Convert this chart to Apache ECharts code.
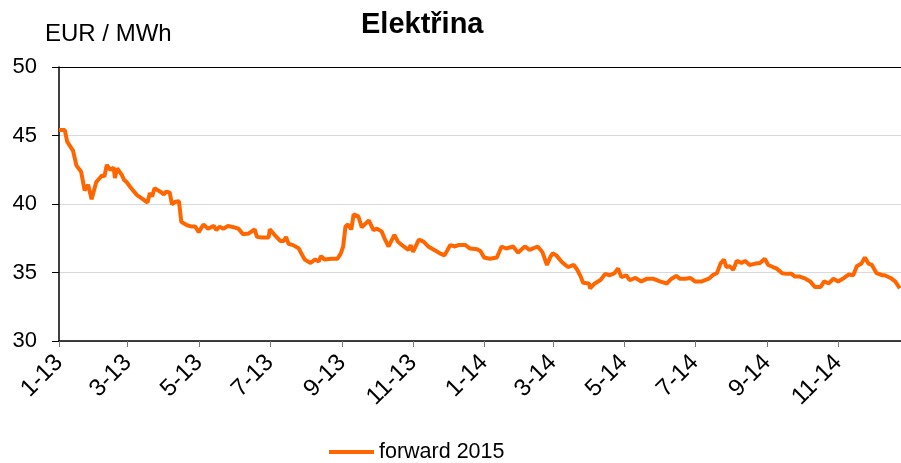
<!DOCTYPE html>
<html>
<head>
<meta charset="utf-8">
<title>Elektřina</title>
<script src="https://cdn.jsdelivr.net/npm/echarts@6/dist/echarts.min.js"></script>
<style>
  html, body { margin: 0; padding: 0; background: #fff; }
  #chart { width: 901px; height: 463px; }
</style>
</head>
<body>
<div id="chart"></div>
<script>
// days counted from 1 Jan 2013
const days = [
  0, 5, 7, 12, 15, 19, 22, 25, 28, 32, 35, 37, 39, 41, 44, 47, 48, 50, 54, 56, 58,
  62, 67, 72, 76, 78, 80, 82, 87, 90, 92, 95, 97, 100, 103, 105, 107, 110, 114, 117,
  120, 124, 128, 133, 135, 138, 141, 145, 150, 154, 158, 163, 168, 170, 174, 180,
  181, 185, 190, 193, 195, 197, 201, 206, 208, 211, 216, 220, 223, 225, 228, 234,
  239, 242, 244, 246, 248, 251, 253, 257, 260, 263, 266, 270, 273, 277, 280, 283,
  288, 291, 296, 300, 302, 304, 309, 313, 317, 323, 327, 331, 336, 340, 343, 349,
  353, 359, 362, 365, 370, 376, 378, 380, 384, 390, 394, 400, 404, 411, 415, 419,
  422, 424, 427, 432, 437, 442, 445, 448, 450, 455, 456, 460, 465, 469, 473, 477,
  480, 483, 487, 490, 495, 500, 505, 510, 516, 522, 526, 530, 533, 538, 542, 546,
  552, 558, 562, 565, 568, 571, 573, 576, 579, 582, 586, 589, 593, 598, 602, 606,
  609, 613, 616, 621, 625, 629, 632, 636, 641, 645, 649, 654, 657, 661, 665, 669,
  674, 678, 682, 685, 689, 692, 695, 698, 702, 707, 709, 714, 718, 722
]

const forward2015 = [
  45.4, 45.4, 44.55, 43.9, 42.8, 42.35, 41.0, 41.4, 40.35, 41.6, 41.9, 42.1, 42.0, 42.85, 42.5, 42.65, 41.9, 42.6, 42.1, 41.75, 41.6,
  41.15, 40.65, 40.35, 40.1, 40.8, 40.55, 41.15, 40.9, 40.7, 40.9, 40.85, 39.98, 40.17, 40.2, 38.7, 38.6, 38.45, 38.35, 38.35,
  37.95, 38.5, 38.2, 38.4, 38.1, 38.35, 38.2, 38.4, 38.3, 38.2, 37.8, 37.85, 38.15, 37.6, 37.55, 37.55,
  38.15, 37.75, 37.3, 37.3, 37.6, 37.1, 37.0, 36.75, 36.4, 35.95, 35.7, 35.95, 35.8, 36.2, 35.95, 36.0,
  36.0, 36.4, 36.9, 38.35, 38.5, 38.15, 39.25, 39.1, 38.3, 38.55, 38.8, 38.1, 38.2, 38.0, 37.4, 36.9,
  37.75, 37.25, 36.9, 36.65, 37.0, 36.5, 37.4, 37.25, 36.9, 36.6, 36.4, 36.25, 37.0, 36.9, 37.0, 37.0,
  36.75, 36.7, 36.55, 36.1, 36.0, 36.1, 36.5, 36.9, 36.75, 36.9, 36.45, 36.9, 36.65, 36.9, 36.5, 35.55,
  36.15, 36.4, 36.25, 35.75, 35.4, 35.55, 35.2, 34.7, 34.25, 34.2, 33.85, 34.2, 34.45, 34.9, 34.8, 34.95,
  35.3, 34.65, 34.8, 34.45, 34.6, 34.35, 34.55, 34.55, 34.35, 34.2, 34.55, 34.75, 34.55, 34.55, 34.6, 34.35,
  34.35, 34.55, 34.85, 34.95, 35.65, 35.95, 35.4, 35.45, 35.2, 35.85, 35.7, 35.85, 35.55, 35.65, 35.7, 36.0,
  35.55, 35.4, 35.3, 34.95, 34.9, 34.9, 34.7, 34.7, 34.55, 34.35, 33.95, 33.95, 34.35, 34.2, 34.55, 34.35,
  34.6, 34.85, 34.8, 35.45, 35.65, 36.1, 35.65, 35.55, 34.95, 34.8, 34.8, 34.6, 34.35, 33.85
]

// first day of every second month
const tickDays = [0, 59, 120, 181, 243, 304, 365, 424, 485, 546, 608, 669]
const tickLabels = ['1-13', '3-13', '5-13', '7-13', '9-13', '11-13', '1-14', '3-14', '5-14', '7-14', '9-14', '11-14']

const yTicks = [30, 35, 40, 45, 50]

const chart = echarts.init(document.getElementById('chart'))
const font = '"Liberation Sans", Arial, sans-serif'

const option = {
  animation: false,
  title: {
    text: 'Elektřina',
    left: 361,
    top: 10,
    padding: 0,
    textStyle: { fontFamily: font, fontSize: 29, fontWeight: 'bold', color: '#000' },
  },
  legend: {
    data: ['forward 2015'],
    left: 329,
    top: 441,
    padding: 0,
    icon: 'rect',
    itemWidth: 45,
    itemHeight: 4,
    textStyle: { fontFamily: font, fontSize: 21.5, color: '#000' },
  },
  grid: { left: 59, right: 0, top: 67, bottom: 122, containLabel: false },
  xAxis: {
    type: 'value',
    min: 0,
    max: 723,
    axisLine: { show: true, lineStyle: { color: '#000', width: 1.5 } },
    axisTick: {
      show: true,
      customValues: tickDays,
      length: 6,
      lineStyle: { color: '#777' },
    },
    axisLabel: {
      customValues: tickDays,
      rotate: 45,
      margin: 18,
      fontFamily: font,
      fontSize: 24,
      color: '#000',
      formatter: (v) => tickLabels[tickDays.indexOf(v)] || '',
    },
    splitLine: { show: false },
  },
  yAxis: {
    type: 'value',
    min: 30,
    max: 50,
    interval: 5,
    name: 'EUR / MWh',
    nameLocation: 'end',
    nameGap: 0,
    nameTextStyle: {
      fontFamily: font,
      fontSize: 24,
      color: '#000',
      align: 'left',
      verticalAlign: 'bottom',
      padding: [0, 0, 21, -14],
    },
    axisLine: { show: true, lineStyle: { color: '#000', width: 1.5 } },
    axisTick: { show: true, length: 7, lineStyle: { color: '#000' } },
    axisLabel: {
      margin: 22,
      fontFamily: font,
      fontSize: 22,
      color: '#000',
    },
    splitLine: {
      show: true,
      lineStyle: {
        // top line closes the frame
        color: yTicks.map((v) => (v === 50 ? '#000' : '#d9d9d9')),
        width: 1,
      },
    },
  },
  series: [
    {
      name: 'forward 2015',
      type: 'line',
      data: days.map((d, i) => [d, forward2015[i]]),
      showSymbol: false,
      lineStyle: { color: '#ff6600', width: 4 },
      itemStyle: { color: '#ff6600' },
    },
  ],
}

chart.setOption(option)
</script>
</body>
</html>
